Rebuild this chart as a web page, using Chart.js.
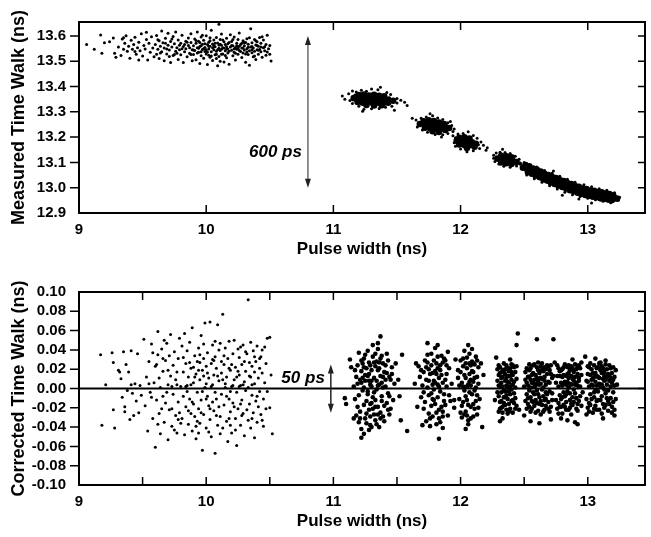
<!DOCTYPE html>
<html>
<head>
<meta charset="utf-8">
<script src="https://cdn.jsdelivr.net/npm/chart.js@4.4.0/dist/chart.umd.min.js"></script>
<style>
body { margin: 0; background: #fff; width: 651px; height: 537px; overflow: hidden; }
.box { position: absolute; left: 0; width: 651px; }
</style>
</head>
<body>
<div class="box" style="top:0;height:270px"><canvas id="chartTop"></canvas></div>
<div class="box" style="top:270px;height:267px"><canvas id="chartBottom"></canvas></div>
<script>
// Eixos e rótulos
var xTicks = [9, 10, 11, 12, 13];
var xTicksMinor = [9.5, 10, 10.5, 11, 11.5, 12, 12.5, 13];
var yTicksTop = [12.9, 13.0, 13.1, 13.2, 13.3, 13.4, 13.5, 13.6];
var yTicksBottom = [-0.10, -0.08, -0.06, -0.04, -0.02, 0.00, 0.02, 0.04, 0.06, 0.08, 0.10];

// Painel superior: tempo medido (ns) x largura de pulso (ns)
var topSparse = [
  [9.06,13.566],[9.12,13.547],[9.17,13.604],[9.18,13.531],[9.2,13.573],[9.24,13.577],[9.27,13.592],[9.28,13.531],[9.29,13.516],
  [9.31,13.556],[9.33,13.523],[9.34,13.588],[9.35,13.547],[9.36,13.571],[9.37,13.601],[9.38,13.539],[9.39,13.559],[9.40,13.512],[9.41,13.583],
  [9.42,13.547],[9.43,13.566],[9.44,13.595],[9.45,13.528],[9.46,13.553],[9.47,13.575],[9.48,13.541],[9.49,13.609],[9.50,13.521],[9.51,13.562],
  [9.52,13.548],[9.53,13.586],[9.54,13.505],[9.55,13.571],[9.56,13.535],[9.57,13.597],[9.58,13.552],[9.59,13.518],[9.35,13.593],[9.47,13.505],
  [9.53,13.614],[9.44,13.538],
  [9.60,13.566],[9.61,13.528],[9.61,13.602],[9.62,13.547],[9.63,13.581],[9.63,13.511],[9.64,13.559],[9.65,13.619],[9.65,13.537],[9.66,13.573],
  [9.67,13.502],[9.67,13.552],[9.68,13.591],[9.69,13.529],[9.70,13.563],[9.70,13.611],[9.71,13.544],[9.72,13.578],[9.72,13.495],[9.73,13.556],
  [9.74,13.523],[9.74,13.598],[9.75,13.569],[9.76,13.539],[9.76,13.615],[9.77,13.553],[9.78,13.507],[9.78,13.584],[9.79,13.545],[9.80,13.571],
  [9.80,13.526],[9.81,13.603],[9.82,13.558],[9.82,13.495],[9.83,13.537],[9.84,13.579],[9.84,13.549],[9.85,13.518],[9.86,13.592],[9.86,13.562],
  [9.87,13.531],[9.88,13.574],[9.88,13.609],[9.89,13.545],[9.89,13.502],[9.62,13.585],[9.69,13.548],[9.75,13.527],[9.83,13.566],[9.87,13.553],
  [9.90,13.561],[9.90,13.527],[9.91,13.588],[9.91,13.542],[9.92,13.506],[9.92,13.571],[9.93,13.553],[9.93,13.615],[9.94,13.535],[9.94,13.579],
  [9.95,13.491],[9.95,13.558],[9.96,13.522],[9.96,13.596],[9.97,13.546],[9.97,13.567],[9.98,13.512],[9.98,13.583],[9.99,13.538],[9.99,13.554],
  [10.00,13.601],[10.00,13.529],[10.01,13.566],[10.01,13.487],[10.02,13.548],[10.02,13.575],[10.03,13.516],[10.03,13.559],[10.04,13.537],[10.04,13.622],
  [10.05,13.568],[10.05,13.503],[10.06,13.545],[10.06,13.584],[10.07,13.526],[10.07,13.557],[10.08,13.594],[10.08,13.539],[10.09,13.572],[10.09,13.482],
  [10.10,13.551],[10.10,13.519],[10.11,13.586],[10.11,13.542],[10.12,13.563],[10.12,13.608],[10.13,13.529],[10.13,13.553],[10.14,13.497],[10.14,13.577],
  [10.15,13.541],[10.15,13.566],[10.16,13.514],[10.16,13.591],[10.17,13.548],[10.17,13.532],[10.18,13.574],[10.18,13.488],[10.19,13.556],[10.19,13.605],
  [9.93,13.532],[9.96,13.561],[9.98,13.549],[10.01,13.536],[10.03,13.581],[10.06,13.562],[10.09,13.545],[10.12,13.528],[10.14,13.552],[10.17,13.569],
  [10.04,13.521],[9.95,13.574],[10.08,13.511],[10.11,13.567],[10.16,13.548],[10.1,13.646],
  [10.20,13.543],[10.20,13.578],[10.21,13.522],[10.21,13.561],[10.22,13.596],[10.22,13.535],[10.23,13.554],[10.23,13.505],[10.24,13.571],[10.24,13.547],
  [10.25,13.586],[10.25,13.528],[10.26,13.559],[10.26,13.612],[10.27,13.538],[10.27,13.566],[10.28,13.515],[10.28,13.552],[10.29,13.581],[10.29,13.532],
  [10.30,13.561],[10.30,13.544],[10.31,13.574],[10.31,13.496],[10.32,13.549],[10.32,13.589],[10.33,13.527],[10.33,13.567],[10.34,13.541],[10.34,13.484],
  [10.35,13.556],[10.35,13.628],[10.36,13.533],[10.36,13.573],[10.37,13.518],[10.37,13.552],[10.38,13.586],[10.38,13.539],[10.39,13.564],[10.39,13.507],
  [10.40,13.545],[10.40,13.577],[10.41,13.528],[10.41,13.559],[10.42,13.594],[10.43,13.537],[10.43,13.571],[10.44,13.516],[10.45,13.553],[10.45,13.584],
  [10.46,13.541],[10.47,13.566],[10.47,13.524],[10.48,13.603],[10.49,13.549],[10.50,13.562],[10.50,13.528],[10.51,13.501],[10.25,13.551],[10.32,13.536],
  [10.36,13.558],[10.42,13.546],
  [9.64,13.532],[9.68,13.571],[9.71,13.519],[9.73,13.588],[9.77,13.531],[9.79,13.563],[9.81,13.549],[9.85,13.575],[9.88,13.527],[9.9,13.544],
  [9.92,13.582],[9.94,13.551],[9.96,13.537],[9.97,13.603],[9.99,13.569],[10.0,13.545],[10.02,13.524],[10.03,13.593],[10.05,13.553],[10.07,13.571],
  [10.08,13.528],[10.1,13.564],[10.11,13.5],[10.13,13.584],[10.15,13.523],[10.16,13.557],[10.18,13.539],[10.2,13.562],[10.21,13.586],[10.23,13.531],
  [10.24,13.561],[10.26,13.542],[10.28,13.571],[10.29,13.552],[10.31,13.529],[10.33,13.555],[10.34,13.593],[10.36,13.545],[10.38,13.521],[10.39,13.581],
  [10.41,13.543],[10.43,13.556],[10.44,13.597],[10.46,13.557],[10.48,13.536],[10.02,13.559],[10.12,13.547],[10.22,13.549],[10.3,13.573],[10.4,13.562]
];

// nuvens densas (pontos sobrepostos, desenhados maiores)
var topDense = [
  [11.20,13.366],[11.24,13.368],[11.28,13.364],[11.32,13.367],[11.36,13.363],[11.40,13.361],
  [11.16,13.354],[11.19,13.351],[11.23,13.353],[11.27,13.350],[11.31,13.352],[11.35,13.349],[11.39,13.351],[11.43,13.347],[11.47,13.344],
  [11.19,13.339],[11.23,13.336],[11.27,13.338],[11.31,13.335],[11.35,13.337],[11.39,13.334],[11.43,13.336],
  [11.26,13.327],[11.32,13.325],[11.38,13.326],
  [11.71,13.262],[11.75,13.266],[11.79,13.263],[11.83,13.258],[11.87,13.252],
  [11.68,13.252],[11.72,13.25],[11.76,13.252],[11.8,13.248],[11.84,13.245],[11.88,13.24],[11.91,13.236],
  [11.72,13.237],[11.76,13.235],[11.8,13.234],[11.84,13.231],[11.88,13.228],[11.78,13.223],[11.83,13.22],
  [11.99,13.197],[12.03,13.199],[12.07,13.194],
  [11.97,13.186],[12.01,13.185],[12.05,13.183],[12.09,13.179],[12.12,13.174],
  [11.99,13.171],[12.03,13.169],[12.07,13.168],[12.11,13.162],[12.05,13.157],
  [12.32,13.126],[12.36,13.124],[12.4,13.12],
  [12.29,13.115],[12.33,13.113],[12.37,13.11],[12.41,13.106],[12.44,13.101],
  [12.32,13.1],[12.36,13.097],[12.4,13.094],
  [12.51,13.09],[12.54,13.085],[12.57,13.076],[12.6,13.071],[12.63,13.064],[12.66,13.055],[12.69,13.05],[12.72,13.042],[12.75,13.038],[12.78,13.03],
  [12.81,13.026],[12.84,13.018],[12.87,13.014],[12.9,13.007],[12.93,13.004],[12.96,12.997],[12.99,12.995],[13.02,12.989],[13.05,12.988],[13.08,12.983],
  [13.11,12.982],[13.14,12.977],[13.17,12.975],[13.2,12.97],
  [12.49,13.079],[12.52,13.075],[12.55,13.067],[12.58,13.062],[12.61,13.054],[12.64,13.048],[12.67,13.04],[12.7,13.035],[12.73,13.027],[12.76,13.023],
  [12.79,13.016],[12.82,13.011],[12.85,13.003],[12.88,13.0],[12.91,12.993],[12.94,12.99],[12.97,12.984],[13.0,12.981],[13.03,12.977],[13.06,12.975],
  [13.09,12.97],[13.12,12.969],[13.15,12.964],[13.18,12.962],[13.21,12.958],[13.23,12.957],
  [12.53,13.061],[12.56,13.055],[12.59,13.048],[12.62,13.042],[12.65,13.034],[12.68,13.028],[12.71,13.021],[12.74,13.015],[12.77,13.009],[12.8,13.003],
  [12.83,12.997],[12.86,12.99],[12.89,12.986],[12.92,12.98],[12.95,12.976],[12.98,12.971],[13.01,12.968],[13.04,12.964],[13.07,12.962],[13.1,12.958],
  [13.13,12.956],[13.16,12.953],[13.19,12.951]
];

// pontos soltos na borda das nuvens densas
var topEdge = [
  [11.07,13.362],[11.09,13.35],[11.12,13.371],[11.15,13.382],[11.18,13.378],[11.22,13.385],[11.26,13.381],[11.3,13.39],[11.35,13.387],[11.37,13.397],
  [11.42,13.376],[11.45,13.368],[11.5,13.353],[11.53,13.346],[11.56,13.338],[11.5,13.335],[11.46,13.322],[11.41,13.318],[11.36,13.313],[11.3,13.312],
  [11.24,13.31],[11.2,13.322],[11.15,13.333],[11.13,13.345],[11.48,13.306],[11.23,13.302],[11.58,13.325],[11.62,13.275],[11.44,13.356],[11.17,13.366],
  [11.65,13.268],[11.67,13.258],[11.69,13.275],[11.73,13.279],[11.78,13.284],[11.82,13.276],[11.86,13.27],[11.9,13.257],[11.93,13.246],[11.95,13.232],
  [11.94,13.222],[11.9,13.214],[11.86,13.209],[11.8,13.21],[11.74,13.219],[11.7,13.228],[11.66,13.24],[11.92,13.262],[11.76,13.292],[11.85,13.2],
  [11.94,13.205],[11.96,13.197],[11.98,13.212],[12.02,13.214],[12.06,13.221],[12.1,13.206],[12.13,13.195],[12.16,13.181],[12.18,13.168],[12.21,13.158],
  [12.2,13.148],[12.15,13.155],[12.1,13.146],[12.05,13.142],[12.0,13.153],[11.96,13.164],[11.95,13.178],[12.14,13.17],
  [12.26,13.128],[12.28,13.137],[12.31,13.14],[12.35,13.139],[12.39,13.135],[12.43,13.124],[12.46,13.112],[12.47,13.098],[12.44,13.086],[12.39,13.081],
  [12.34,13.085],[12.3,13.094],[12.27,13.104],[12.26,13.116],[12.33,13.152],[12.49,13.083],
  [12.47,13.093],[12.5,13.1],[12.55,13.087],[12.6,13.082],[12.66,13.068],[12.72,13.057],[12.78,13.045],[12.84,13.033],[12.9,13.022],[12.97,13.012],
  [13.03,13.004],[13.09,12.996],[13.15,12.99],[13.21,12.98],[13.25,12.962],[13.24,12.95],[13.18,12.941],[13.12,12.946],[13.06,12.952],[13.0,12.958],
  [12.94,12.965],[12.88,12.972],[12.82,12.982],[12.76,12.995],[12.7,13.008],[12.64,13.022],[12.58,13.035],[12.52,13.05],[12.73,13.066],[12.93,12.955],
  [13.03,12.94],[12.8,12.97]
];

// Painel inferior: tempo corrigido (ns)
var bottomSparse = [
  [9.17,0.035],[9.18,-0.038],[9.21,0.004],[9.26,0.037],[9.27,0.027],[9.28,-0.041],[9.27,-0.022],[9.31,0.019],[9.33,0.01],[9.34,-0.009],
  [9.35,0.038],[9.36,-0.019],[9.37,0.025],[9.38,-0.002],[9.39,0.017],[9.4,-0.032],[9.41,0.039],[9.42,-0.005],[9.43,-0.028],[9.44,0.005],
  [9.45,-0.013],[9.46,0.036],[9.47,-0.025],[9.48,0.003],[9.49,-0.007],[9.36,-0.024],[9.41,0.004],[9.32,0.017],
  [9.51,0.051],[9.52,-0.018],[9.53,0.012],[9.54,-0.044],[9.55,0.028],[9.56,-0.004],[9.57,0.046],[9.58,-0.031],[9.59,0.006],[9.6,0.023],
  [9.6,-0.061],[9.61,-0.012],[9.62,0.059],[9.62,0.035],[9.63,-0.026],[9.64,0.001],[9.64,-0.047],[9.65,0.041],[9.66,-0.008],[9.66,0.018],
  [9.67,-0.035],[9.68,0.029],[9.68,-0.015],[9.69,0.047],[9.7,0.004],[9.7,-0.053],[9.71,-0.022],[9.72,0.013],[9.72,0.056],[9.73,-0.039],
  [9.74,0.024],[9.74,-0.006],[9.75,0.038],[9.76,-0.028],[9.76,0.009],[9.77,-0.046],[9.78,0.031],[9.78,-0.014],[9.79,0.052],[9.8,0.002],
  [9.55,0.005],[9.58,0.037],[9.63,0.011],[9.65,-0.021],[9.69,-0.004],[9.71,0.034],[9.73,0.002],[9.77,0.017],[9.57,-0.009],[9.61,0.025],
  [9.67,0.05],[9.75,-0.043],[9.79,-0.025],
  [9.81,0.044],[9.81,-0.031],[9.82,0.017],[9.82,-0.008],[9.83,0.057],[9.83,-0.048],[9.84,0.026],[9.84,-0.019],[9.85,0.003],[9.85,0.039],
  [9.86,-0.037],[9.86,0.012],[9.87,-0.011],[9.87,0.048],[9.88,-0.026],[9.88,0.021],[9.89,0.063],[9.89,-0.044],[9.9,0.006],[9.9,-0.016],
  [9.91,0.034],[9.91,-0.029],[9.92,0.015],[9.92,-0.052],[9.93,0.028],[9.93,-0.004],[9.94,0.042],[9.94,-0.021],[9.95,0.009],[9.95,-0.036],
  [9.96,0.055],[9.96,-0.012],[9.97,0.019],[9.97,-0.064],[9.98,0.031],[9.98,-0.027],[9.99,0.001],[9.99,0.068],[10.0,-0.041],[10.0,0.023],
  [10.01,-0.008],[10.01,0.037],[10.02,-0.018],[10.02,0.011],[10.03,0.069],[10.03,-0.032],[10.04,0.026],[10.04,-0.05],[10.05,0.004],[10.05,0.045],
  [10.06,-0.023],[10.06,0.014],[10.07,-0.067],[10.07,0.033],[10.08,-0.011],[10.08,0.021],[10.09,0.066],[10.09,-0.038],[10.1,0.008],[10.1,-0.019],
  [9.84,0.002],[9.88,0.004],[9.9,0.022],[9.93,-0.034],[9.95,0.027],[9.97,-0.003],[10.0,0.005],[10.02,-0.045],[10.04,0.002],[10.06,0.029],
  [10.08,-0.028],[10.1,0.04],[9.86,-0.023],[9.98,0.013],[10.05,-0.014],
  [10.11,0.047],[10.11,-0.029],[10.12,0.016],[10.12,-0.006],[10.13,0.077],[10.13,-0.041],[10.14,0.025],[10.14,-0.017],[10.15,0.005],[10.15,0.042],
  [10.16,-0.034],[10.16,0.012],[10.17,-0.055],[10.17,0.031],[10.18,-0.011],[10.18,0.049],[10.19,-0.024],[10.19,0.019],[10.2,0.002],[10.2,-0.046],
  [10.21,0.036],[10.21,-0.015],[10.22,0.009],[10.22,0.05],[10.23,-0.031],[10.23,0.022],[10.24,-0.004],[10.24,-0.059],[10.25,0.041],[10.25,-0.021],
  [10.26,0.014],[10.26,0.032],[10.27,-0.038],[10.27,0.003],[10.28,0.025],[10.28,-0.012],[10.29,0.045],[10.29,-0.026],[10.3,0.007],[10.3,-0.049],
  [10.31,0.018],[10.31,-0.002],[10.32,0.036],[10.33,0.092],[10.33,-0.033],[10.34,0.013],[10.34,-0.016],[10.35,0.048],[10.35,-0.041],[10.36,0.023],
  [10.36,-0.007],[10.37,0.039],[10.37,-0.025],[10.38,0.005],[10.38,-0.051],[10.39,0.028],[10.39,-0.013],[10.4,0.044],[10.4,-0.035],[10.41,0.011],
  [10.41,-0.019],[10.42,0.031],[10.42,-0.003],[10.43,-0.027],[10.44,0.016],[10.44,0.04],[10.45,-0.011],[10.45,-0.039],[10.46,0.006],[10.47,0.026],
  [10.47,-0.021],[10.48,0.052],[10.48,-0.003],[10.5,0.053],[10.52,-0.047],[10.5,-0.02],[10.51,0.014],[10.15,0.001],[10.19,-0.003],[10.22,-0.019],
  [10.26,0.002],[10.3,0.028],[10.33,0.001],[10.36,0.004],[10.18,0.021],[10.28,-0.028],[10.38,0.017],[10.43,0.033],
  [9.62,-0.037],[9.66,0.031],[9.7,0.019],[9.73,-0.021],[9.77,0.004],[9.8,-0.036],[9.82,0.032],[9.85,-0.003],[9.87,0.027],[9.89,-0.014],
  [9.91,0.012],[9.92,-0.039],[9.94,0.019],[9.96,-0.025],[9.98,0.046],[10.0,-0.011],[10.01,0.016],[10.03,-0.021],[10.05,0.03],[10.07,-0.004],
  [10.09,0.013],[10.11,-0.047],[10.13,0.009],[10.14,0.034],[10.16,-0.008],[10.18,-0.031],[10.2,0.025],[10.21,0.003],[10.23,-0.043],[10.25,0.018],
  [10.27,-0.016],[10.29,0.004],[10.31,0.038],[10.32,-0.022],[10.34,0.027],[10.36,-0.031],[10.38,0.033],[10.4,-0.008],[10.42,0.021],[10.44,-0.033],
  [10.46,0.043],[10.12,0.028],[10.24,0.012],[10.35,0.012],[9.95,0.035],[10.07,0.049],[10.19,-0.038],[10.27,0.043],[9.78,-0.032],[9.94,-0.046]
];

var bottomClusters = [
  // ~11.3 ns
  [11.18,0.012],[11.21,-0.024],[11.24,0.031],[11.27,-0.006],[11.3,0.019],[11.33,-0.033],[11.36,0.004],[11.39,0.026],[11.42,-0.015],[11.45,0.009],
  [11.17,-0.011],[11.2,0.037],[11.23,-0.002],[11.26,0.021],[11.29,-0.038],[11.32,0.011],[11.35,-0.019],[11.38,0.034],[11.41,0.002],[11.44,-0.027],
  [11.19,0.024],[11.22,0.006],[11.25,-0.031],[11.28,0.015],[11.31,-0.009],[11.34,0.028],[11.37,-0.025],[11.4,0.017],[11.43,-0.005],[11.46,0.022],
  [11.16,0.002],[11.19,-0.019],[11.22,0.018],[11.25,0.008],[11.28,-0.022],[11.31,0.033],[11.34,-0.001],[11.37,0.013],[11.4,-0.034],[11.43,0.029],
  [11.2,-0.035],[11.23,0.026],[11.26,-0.013],[11.29,0.004],[11.32,-0.027],[11.35,0.019],[11.38,-0.008],[11.41,0.024],[11.44,0.012],[11.47,-0.012],
  [11.21,0.009],[11.24,-0.017],[11.27,0.039],[11.3,-0.015],[11.33,0.023],[11.36,-0.04],[11.39,0.001],[11.42,0.016],[11.45,-0.021],[11.48,0.005],
  [11.18,-0.028],[11.25,0.014],[11.28,0.027],[11.3,0.002],[11.33,-0.012],[11.35,0.041],[11.37,-0.031],[11.31,0.045],[11.26,-0.036],[11.4,-0.018],
  [11.23,0.011],[11.29,-0.029],[11.34,0.008],[11.36,0.021],[11.27,-0.003],[11.32,-0.004],[11.38,0.006],[11.22,-0.042],[11.3,-0.04],[11.33,0.036],
  [11.17,0.019],[11.2,-0.007],[11.22,0.029],[11.24,0.001],[11.26,-0.026],[11.28,0.008],[11.29,0.024],[11.31,-0.021],[11.32,0.027],[11.34,-0.037],
  [11.35,0.003],[11.37,0.031],[11.38,-0.013],[11.39,-0.029],[11.41,0.009],[11.42,0.036],[11.44,-0.008],[11.46,0.015],[11.27,0.013],[11.33,-0.019],
  [11.21,-0.031],[11.25,0.035],[11.36,0.027],[11.3,0.008],[11.39,0.012],[11.43,-0.022],[11.19,0.005],[11.29,-0.016],[11.35,-0.027],[11.24,0.022],
  [11.37,0.054],[11.35,0.047],[11.22,-0.051],[11.58,-0.044],[11.54,0.035],[11.09,-0.01],[11.1,-0.016],[11.13,0.03],[11.14,0.022],[11.51,0.009],
  [11.52,-0.008],[11.49,0.026],[11.24,-0.047],[11.28,-0.043],[11.53,-0.033],[11.16,-0.031],
  // ~11.8 ns
  [11.68,0.012],[11.71,-0.021],[11.74,0.027],[11.77,-0.005],[11.8,0.018],[11.83,-0.031],[11.86,0.006],[11.89,0.024],[11.92,-0.013],[11.7,0.003],
  [11.73,-0.034],[11.76,0.015],[11.79,-0.012],[11.82,0.033],[11.85,-0.019],[11.88,0.009],[11.91,0.021],[11.69,-0.009],[11.72,0.029],[11.75,-0.026],
  [11.78,0.004],[11.81,-0.037],[11.84,0.019],[11.87,-0.006],[11.9,-0.028],[11.67,0.023],[11.74,0.001],[11.77,0.036],[11.8,-0.016],[11.83,0.011],
  [11.86,-0.024],[11.89,0.002],[11.72,-0.014],[11.75,0.02],[11.78,-0.029],[11.81,0.026],[11.84,-0.003],[11.87,0.031],[11.79,0.008],[11.82,-0.009],
  [11.76,-0.039],[11.8,0.042],[11.85,0.014],[11.71,0.017],[11.93,0.005],[11.88,-0.017],[11.77,0.024],[11.83,-0.022],[11.79,-0.001],[11.73,0.009],
  [11.81,0.015],[11.86,0.027],[11.84,-0.035],[11.78,0.016],[11.82,0.004],[11.75,-0.007],
  [11.69,0.019],[11.71,-0.004],[11.73,0.022],[11.75,0.008],[11.77,-0.018],[11.79,0.029],[11.81,-0.025],[11.83,0.002],[11.85,0.034],[11.87,-0.013],
  [11.89,0.015],[11.91,-0.007],[11.76,-0.031],[11.8,0.006],[11.84,0.024],[11.78,-0.011],[11.82,0.021],[11.86,-0.029],[11.74,0.035],[11.88,0.029],
  [11.74,0.047],[11.82,0.045],[11.83,-0.052],[11.65,0.026],[11.66,-0.019],[11.95,-0.02],[11.9,0.038],[11.86,-0.041],[11.7,-0.038],[11.64,0.005],
  // ~12.05 ns
  [11.98,0.011],[12.01,-0.018],[12.04,0.026],[12.07,-0.004],[12.1,0.017],[12.13,-0.027],[11.99,0.003],[12.02,0.031],[12.05,-0.012],[12.08,0.009],
  [12.11,-0.021],[12.14,0.022],[12.0,-0.025],[12.03,0.014],[12.06,-0.033],[12.09,0.028],[12.12,0.001],[12.15,-0.011],[11.98,0.019],[12.01,0.006],
  [12.04,-0.008],[12.07,0.036],[12.1,-0.029],[12.13,0.012],[12.02,-0.014],[12.05,0.021],[12.08,-0.019],[12.11,0.025],[12.0,0.029],[12.06,0.004],
  [12.09,-0.006],[12.12,0.033],[12.04,-0.024],[12.07,0.015],[12.03,0.039],[12.1,0.007],[12.06,-0.037],[12.14,-0.02],[12.01,-0.03],[12.08,0.024],
  [12.05,0.002],[12.12,-0.013],[12.03,-0.002],[12.09,0.018],
  [11.99,-0.011],[12.0,0.017],[12.02,0.002],[12.03,-0.027],[12.05,0.032],[12.06,-0.017],[12.07,0.007],[12.08,-0.031],[12.1,0.026],[12.11,-0.002],
  [12.13,0.029],[12.14,0.005],[12.02,0.023],[12.05,-0.028],[12.08,0.003],[12.11,0.011],[12.04,0.011],[12.1,-0.016],[12.07,0.026],[12.13,-0.007],
  [12.06,0.045],[12.09,0.041],[12.17,-0.04],[12.04,-0.042],[11.96,0.03],[12.18,0.014],[11.95,-0.012],[12.16,0.026],
  // ~12.36 ns
  [12.29,0.008],[12.31,-0.014],[12.33,0.019],[12.35,-0.003],[12.37,0.013],[12.39,-0.021],[12.41,0.004],[12.43,0.017],[12.3,-0.024],[12.32,0.011],
  [12.34,-0.009],[12.36,0.024],[12.38,-0.016],[12.4,0.009],[12.42,-0.005],[12.44,-0.018],[12.29,0.02],[12.31,0.003],[12.33,-0.019],[12.35,0.015],
  [12.37,-0.011],[12.39,0.021],[12.41,-0.025],[12.43,0.001],[12.3,0.014],[12.32,-0.004],[12.34,0.026],[12.36,-0.022],[12.38,0.006],[12.4,-0.013],
  [12.42,0.022],[12.31,0.016],[12.33,0.002],[12.35,0.008],[12.37,-0.026],[12.39,0.002],[12.41,0.014],[12.36,-0.007],[12.34,-0.015],[12.38,0.018],
  [12.32,-0.02],[12.4,-0.001],[12.3,-0.008],[12.44,0.01],[12.35,0.02],[12.37,0.001],
  [12.29,-0.004],[12.3,0.024],[12.31,-0.021],[12.32,0.006],[12.33,0.012],[12.34,-0.002],[12.35,-0.017],[12.36,0.011],[12.37,0.021],[12.38,-0.024],
  [12.39,-0.006],[12.4,0.017],[12.41,-0.012],[12.42,0.007],[12.43,-0.021],[12.44,0.023],[12.3,0.003],[12.32,-0.013],[12.34,0.017],[12.36,0.003],
  [12.38,-0.003],[12.4,0.025],[12.42,-0.015],[12.33,-0.025],[12.37,0.007],[12.41,0.024],[12.35,-0.009],[12.39,0.013],[12.31,0.022],[12.43,-0.01],
  [12.45,0.057],[12.44,0.045],[12.31,-0.034],[12.33,-0.031],[12.28,0.032],[12.46,-0.022],[12.27,-0.012],[12.39,0.03],
  // ~12.6 ns
  [12.51,0.009],[12.53,-0.016],[12.55,0.021],[12.57,-0.004],[12.59,0.014],[12.61,-0.023],[12.63,0.005],[12.65,0.018],[12.67,-0.011],[12.69,0.007],
  [12.71,-0.019],[12.52,-0.006],[12.54,0.025],[12.56,-0.013],[12.58,0.002],[12.6,0.022],[12.62,-0.009],[12.64,-0.017],[12.66,0.012],[12.68,0.024],
  [12.7,-0.003],[12.72,0.011],[12.51,0.017],[12.53,0.003],[12.55,-0.024],[12.57,0.016],[12.59,-0.012],[12.61,0.008],[12.63,-0.027],[12.65,0.001],
  [12.67,0.02],[12.69,-0.014],[12.71,0.015],[12.52,-0.021],[12.54,0.012],[12.56,0.006],[12.58,-0.018],[12.6,-0.002],[12.62,0.016],[12.64,0.026],
  [12.66,-0.022],[12.68,-0.006],[12.7,0.019],[12.53,-0.01],[12.55,0.001],[12.57,0.024],[12.59,-0.025],[12.61,0.019],[12.63,0.011],[12.65,-0.008],
  [12.67,0.004],[12.69,0.023],[12.72,-0.012],[12.56,0.014],[12.6,0.011],[12.64,-0.001],[12.58,0.009],[12.62,-0.016],[12.66,0.008],[12.54,-0.002],
  [12.5,0.002],[12.51,-0.013],[12.52,0.021],[12.53,0.012],[12.54,-0.019],[12.55,0.009],[12.56,-0.021],[12.57,0.006],[12.58,0.025],[12.59,0.003],
  [12.6,-0.015],[12.61,0.027],[12.62,0.004],[12.63,-0.013],[12.64,0.01],[12.65,-0.024],[12.66,0.022],[12.67,-0.004],[12.68,0.015],[12.69,-0.021],
  [12.7,0.006],[12.71,0.024],[12.72,-0.005],[12.73,0.013],[12.52,0.006],[12.55,-0.009],[12.58,-0.006],[12.61,-0.006],[12.64,0.019],[12.67,-0.018],
  [12.7,-0.024],[12.54,0.019],[12.6,0.005],[12.66,-0.012],[12.57,-0.014],[12.63,0.023],
  [12.6,0.051],[12.55,-0.034],[12.62,-0.036],[12.71,-0.032],[12.5,-0.028],[12.74,0.027],
  // ~12.85 ns
  [12.75,0.006],[12.77,-0.015],[12.79,0.019],[12.81,-0.004],[12.83,0.013],[12.85,-0.022],[12.87,0.004],[12.89,0.017],[12.91,-0.01],[12.93,0.008],
  [12.95,-0.018],[12.76,0.024],[12.78,-0.007],[12.8,0.003],[12.82,-0.019],[12.84,0.022],[12.86,-0.012],[12.88,0.01],[12.9,0.025],[12.92,-0.023],
  [12.94,0.002],[12.76,-0.021],[12.78,0.013],[12.8,-0.026],[12.82,0.007],[12.84,-0.003],[12.86,0.019],[12.88,-0.017],[12.9,-0.005],[12.92,0.015],
  [12.94,0.021],[12.77,0.002],[12.79,-0.011],[12.81,0.022],[12.83,-0.014],[12.85,0.011],[12.87,-0.027],[12.89,-0.001],[12.91,0.02],[12.93,-0.013],
  [12.78,0.018],[12.82,-0.008],[12.86,0.005],[12.9,0.012],[12.8,0.012],[12.84,0.015],[12.88,-0.009],[12.92,0.003],[12.85,0.001],[12.81,-0.017],
  [12.87,0.023],[12.83,0.004],
  [12.75,-0.012],[12.76,0.013],[12.77,0.021],[12.78,-0.019],[12.79,0.006],[12.8,-0.009],[12.81,0.014],[12.82,0.025],[12.83,-0.022],[12.84,0.007],
  [12.85,0.024],[12.86,-0.005],[12.87,0.013],[12.88,0.021],[12.89,-0.014],[12.9,0.004],[12.91,-0.021],[12.92,0.022],[12.93,0.011],[12.94,-0.008],
  [12.95,0.014],[12.96,-0.004],[12.77,-0.026],[12.8,0.02],[12.83,-0.006],[12.86,-0.02],[12.89,0.008],[12.92,-0.016],[12.79,-0.019],[12.85,0.016],
  [12.91,0.006],[12.87,-0.016],[12.81,0.005],[12.93,0.024],
  [12.73,0.051],[12.79,-0.031],[12.84,-0.033],[12.92,-0.037],[12.95,0.027],[12.88,0.03],[12.9,-0.035],
  // ~13.1 ns
  [12.99,0.008],[13.01,-0.015],[13.03,0.02],[13.05,-0.004],[13.07,0.013],[13.09,-0.022],[13.11,0.004],[13.13,0.017],[13.15,-0.01],[13.17,0.008],
  [13.19,-0.019],[13.21,0.012],[13.0,0.023],[13.02,-0.006],[13.04,0.003],[13.06,-0.018],[13.08,0.022],[13.1,-0.012],[13.12,0.01],[13.14,0.025],
  [13.16,-0.023],[13.18,0.002],[13.2,-0.004],[13.22,0.019],[13.0,-0.02],[13.02,0.014],[13.04,-0.025],[13.06,0.007],[13.08,-0.003],[13.1,0.019],
  [13.12,-0.016],[13.14,-0.005],[13.16,0.015],[13.18,0.021],[13.2,-0.014],[13.01,0.002],[13.03,-0.011],[13.05,0.024],[13.07,-0.013],[13.09,0.011],
  [13.11,-0.026],[13.13,-0.001],[13.15,0.02],[13.17,-0.016],[13.19,0.006],[13.21,-0.022],[13.03,0.009],[13.07,0.003],[13.11,0.016],[13.15,0.004],
  [13.05,-0.009],[13.09,0.026],[13.13,-0.02],[13.17,0.013],[13.0,0.007],[13.2,0.009],[13.12,0.001],[13.06,0.016],
  [12.99,-0.011],[13.0,0.015],[13.01,0.022],[13.02,-0.017],[13.03,0.004],[13.04,0.016],[13.05,-0.021],[13.06,-0.002],[13.07,0.021],[13.08,-0.012],
  [13.09,0.005],[13.1,0.027],[13.11,-0.008],[13.12,0.021],[13.13,0.008],[13.14,-0.017],[13.15,0.012],[13.16,-0.002],[13.17,0.024],[13.18,-0.01],
  [13.19,0.016],[13.2,0.022],[13.21,0.003],[13.22,-0.011],[13.01,-0.024],[13.04,0.01],[13.07,-0.022],[13.1,0.002],[13.13,0.013],[13.16,-0.013],
  [13.19,-0.025],[13.02,0.026],[13.08,0.012],[13.14,0.009],[13.05,0.012],[13.11,0.023],[13.18,0.011],
  [12.98,0.033],[13.06,0.031],[13.12,-0.031],[13.21,-0.028],[13.23,0.004],[13.14,0.029],[12.99,-0.027]
];

Chart.defaults.font.family = '"Liberation Sans", Arial, sans-serif';
Chart.defaults.color = '#000';

var tickFont = { size: 15, weight: 'bold' };
var titleFont = { size: 17, weight: 'bold' };

// moldura, marcas de escala, linha zero e setas
var framePlugin = {
  id: 'frame',
  afterDraw: function (chart, args, o) {
    var a = chart.chartArea, c = chart.ctx;
    var xs = chart.scales.x, ys = chart.scales.y;
    c.save();
    c.strokeStyle = '#000';
    if (o.zeroLine) {
      c.lineWidth = 2;
      c.beginPath();
      c.moveTo(a.left, ys.getPixelForValue(0));
      c.lineTo(a.right, ys.getPixelForValue(0));
      c.stroke();
    }
    c.lineWidth = 1.5;
    c.beginPath();
    o.xMarks.forEach(function (v) {
      var px = xs.getPixelForValue(v);
      c.moveTo(px, a.bottom); c.lineTo(px, a.bottom - 8);
      c.moveTo(px, a.top); c.lineTo(px, a.top + 8);
    });
    o.yMarks.forEach(function (v) {
      var py = ys.getPixelForValue(v);
      c.moveTo(a.left - 9, py); c.lineTo(a.left, py);
      c.moveTo(a.right, py); c.lineTo(a.right - 7, py);
    });
    c.stroke();
    c.lineWidth = 2;
    c.strokeRect(a.left, a.top, a.right - a.left, a.bottom - a.top);

    // seta dupla + texto
    var ar = o.arrow;
    var ax = xs.getPixelForValue(ar.x);
    var y1 = ys.getPixelForValue(ar.from), y2 = ys.getPixelForValue(ar.to);
    c.strokeStyle = '#222'; c.fillStyle = '#222'; c.lineWidth = ar.width;
    c.beginPath(); c.moveTo(ax, y1 + 5); c.lineTo(ax, y2 - 5); c.stroke();
    c.beginPath(); c.moveTo(ax, y1); c.lineTo(ax - 3, y1 + 9); c.lineTo(ax + 3, y1 + 9); c.closePath(); c.fill();
    c.beginPath(); c.moveTo(ax, y2); c.lineTo(ax - 3, y2 - 9); c.lineTo(ax + 3, y2 - 9); c.closePath(); c.fill();
    c.fillStyle = '#000';
    c.font = 'italic bold 17px "Liberation Sans", Arial, sans-serif';
    c.textAlign = 'right'; c.textBaseline = 'middle';
    c.fillText(ar.label, ax - 6, ys.getPixelForValue(ar.labelY));
    c.restore();
  }
};

function scatterSet(data, r) {
  return { data: data, pointRadius: r, pointHoverRadius: r, backgroundColor: '#000', borderWidth: 0 };
}

function baseOptions(yMin, yMax, yTicks, yDigits, xHeight, titleBottom, yTitle, topPad, frameOpts) {
  return {
    responsive: true,
    maintainAspectRatio: false,
    animation: false,
    events: [],
    layout: { padding: { top: topPad, right: 6, left: 0, bottom: 0 } },
    plugins: { legend: { display: false }, tooltip: { enabled: false }, frame: frameOpts },
    scales: {
      x: {
        type: 'linear', min: 9, max: 13.45,
        afterFit: function (s) { s.height = xHeight; },
        afterBuildTicks: function (s) { s.ticks = xTicks.map(function (v) { return { value: v }; }); },
        grid: { display: false, drawTicks: false },
        border: { display: false },
        ticks: { font: tickFont, padding: 8, maxRotation: 0, autoSkip: false, callback: function (v) { return String(v); } },
        title: { display: true, text: 'Pulse width (ns)', font: titleFont, padding: { top: 0, bottom: titleBottom } }
      },
      y: {
        type: 'linear', min: yMin, max: yMax,
        afterFit: function (s) { s.width = 79; },
        afterBuildTicks: function (s) { s.ticks = yTicks.map(function (v) { return { value: v }; }); },
        grid: { display: false, drawTicks: false },
        border: { display: false },
        ticks: { font: tickFont, padding: 13, autoSkip: false, callback: function (v) { return v.toFixed(yDigits); } },
        title: { display: true, text: yTitle, font: { size: 18, weight: 'bold' }, padding: { top: 8, bottom: 0 } }
      }
    }
  };
}

new Chart(document.getElementById('chartTop'), {
  type: 'scatter',
  data: { datasets: [scatterSet(topSparse, 1.5), scatterSet(topEdge, 1.5), scatterSet(topDense, 3.3)] },
  options: baseOptions(12.9, 13.655, yTicksTop, 1, 57, 10, 'Measured Time Walk (ns)', 16, {
    xMarks: [10, 11, 12, 13], yMarks: [13.0, 13.1, 13.2, 13.3, 13.4, 13.5, 13.6], zeroLine: false,
    arrow: { x: 10.8, from: 13.6, to: 13.0, label: '600 ps', labelY: 13.14, width: 1 }
  }),
  plugins: [framePlugin]
});

new Chart(document.getElementById('chartBottom'), {
  type: 'scatter',
  data: { datasets: [scatterSet(bottomSparse, 1.5), scatterSet(bottomClusters, 2.3)] },
  options: baseOptions(-0.1, 0.1, yTicksBottom, 2, 52, 5, 'Corrected Time Walk (ns)', 19, {
    xMarks: xTicksMinor, yMarks: yTicksBottom.slice(1, -1), zeroLine: true,
    arrow: { x: 10.98, from: 0.025, to: -0.025, label: '50 ps', labelY: 0.0105, width: 1.5 }
  }),
  plugins: [framePlugin]
});
</script>
</body>
</html>
